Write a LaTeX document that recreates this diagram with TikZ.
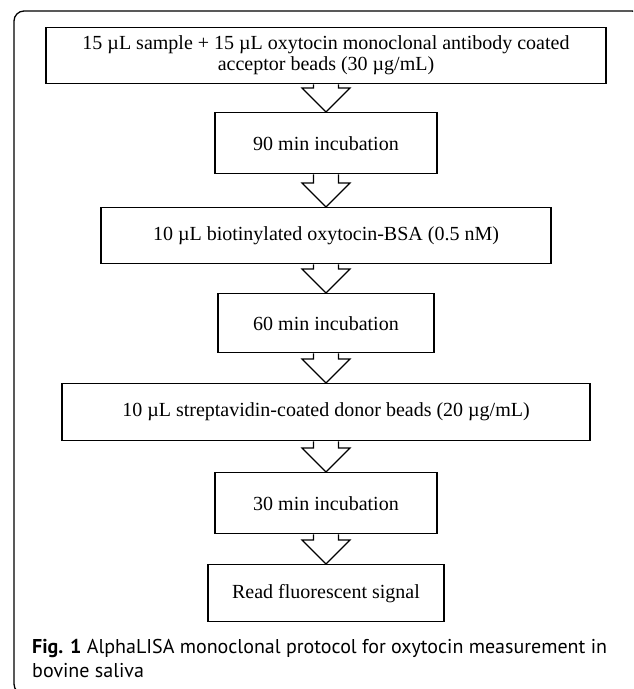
\documentclass[tikz,border=0pt]{standalone}
\usepackage{fontspec}
\setmainfont{Liberation Serif}
\newfontfamily\capfont{PT Sans}
\usetikzlibrary{calc}
\tikzset{
  stepbox/.style={draw, line width=1.4pt, align=center, inner sep=0pt, anchor=north,
    font=\fontsize{20}{21}\selectfont},
  blockarrow/.style={draw, line width=1.2pt, fill=white, line join=miter}
}
% hollow block arrow from the bottom of one box to the top of the next
\newcommand{\flowarrow}[2]{%
  \draw[blockarrow] ($(#1.south)+(-12.5,0)$) -- ($(#2.north)+(-12.5,-24)$)
    -- ($(#2.north)+(-24,-24)$) -- (#2.north) -- ($(#2.north)+(24,-24)$)
    -- ($(#2.north)+(12.5,-24)$) -- ($(#1.south)+(12.5,0)$);}

\begin{document}
\begin{tikzpicture}[x=1pt, y=-1pt]
  \path[use as bounding box] (0,0) rectangle (633,689);
  \clip (0,0) rectangle (633,689);
  % frame
  \draw[line width=1.3pt, rounded corners=10pt] (14,11) rectangle (642,694);
  % steps
  \node[stepbox, minimum width=560pt, minimum height=56pt] (mix) at (326,27)
    {15 µL sample + 15 µL oxytocin monoclonal antibody coated\\acceptor beads (30 µg/mL)};
  \node[stepbox, minimum width=222pt, minimum height=61pt] (inca) at (326,112) {90 min incubation};
  \node[stepbox, minimum width=450pt, minimum height=56pt] (biot) at (326,207)
    {10 µL biotinylated oxytocin-BSA (0.5 nM)};
  \node[stepbox, minimum width=216pt, minimum height=59pt] (incb) at (326,293) {60 min incubation};
  \node[stepbox, minimum width=528pt, minimum height=57pt] (donor) at (326,383)
    {10 µL streptavidin-coated donor beads (20 µg/mL)};
  \node[stepbox, minimum width=222pt, minimum height=61pt] (incc) at (326,472) {30 min incubation};
  \node[stepbox, minimum width=236pt, minimum height=57pt] (read) at (326,564) {Read fluorescent signal};
  % arrows
  \foreach \a/\b in {mix/inca, inca/biot, biot/incb, incb/donor, donor/incc, incc/read}{
    \flowarrow{\a}{\b}
  }
  % caption
  \node[anchor=base west, align=left, inner sep=0pt,
    font=\capfont\fontsize{20}{24}\selectfont] (caption) at (32,653)
    {\textbf{Fig. 1} AlphaLISA monoclonal protocol for oxytocin measurement in};
  \node[anchor=base west, inner sep=0pt,
    font=\capfont\fontsize{20}{24}\selectfont] (caption2) at (32,677) {bovine saliva};
\end{tikzpicture}
\end{document}
